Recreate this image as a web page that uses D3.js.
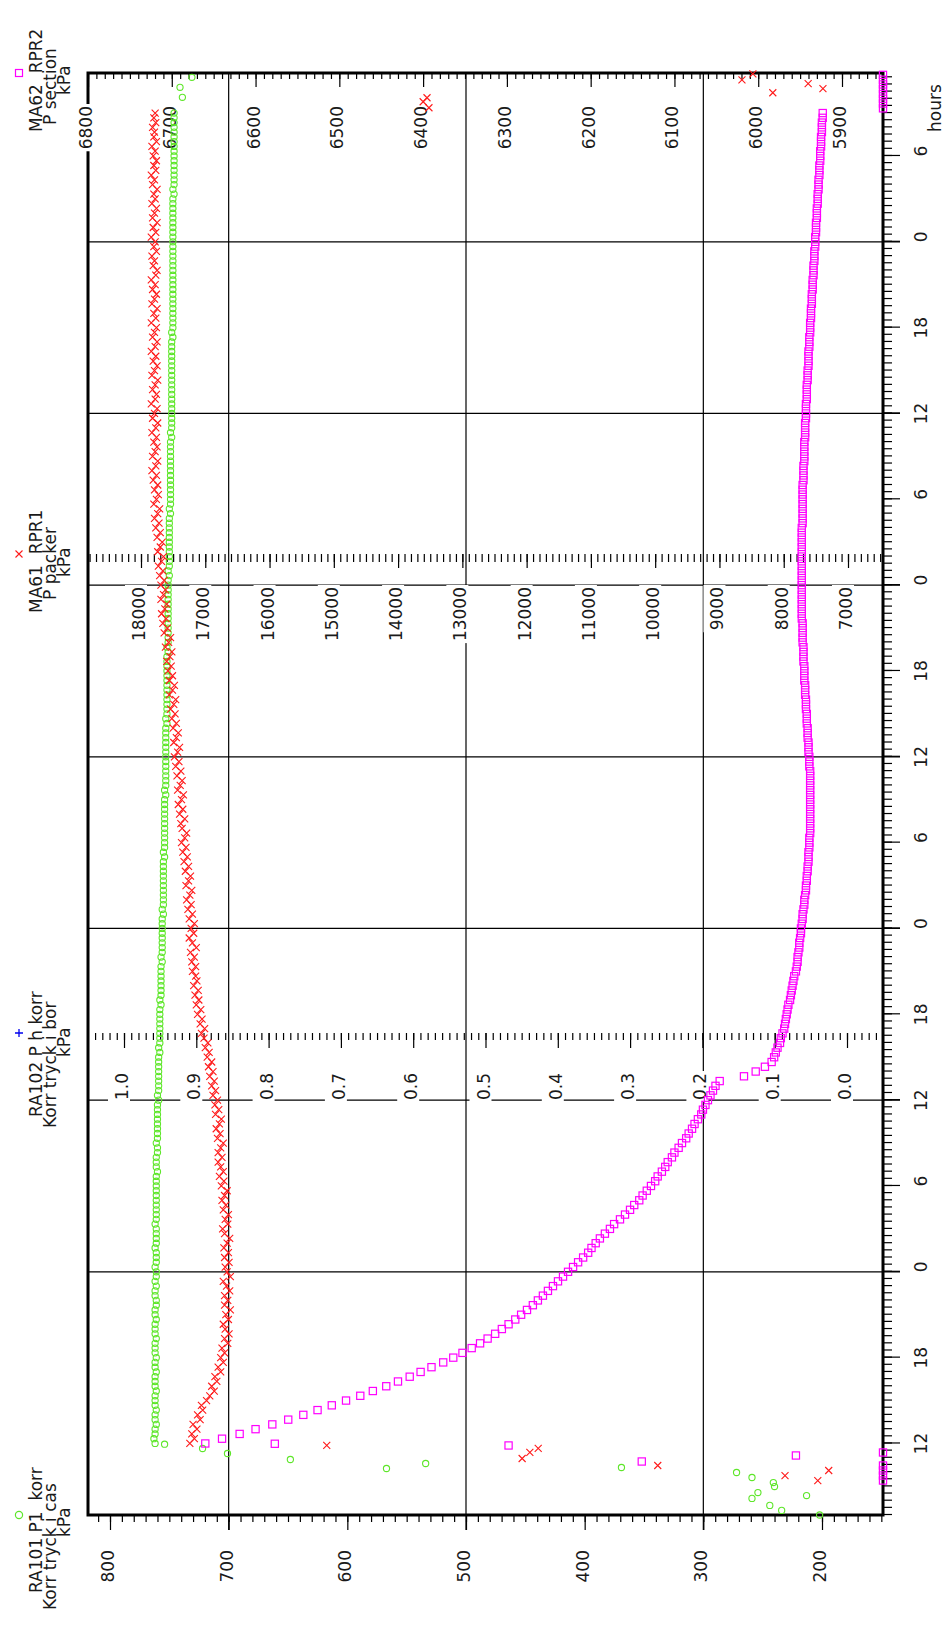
<!DOCTYPE html>
<html><head><meta charset="utf-8">
<script src="https://cdn.jsdelivr.net/npm/d3@7"></script>
<style>
html,body{margin:0;padding:0;background:#fff;}
text{font-family:"DejaVu Sans",sans-serif;fill:#1a1a1a;font-size:17px;}
.pre{white-space:pre;}
</style></head><body>
<script>
// ---------------- DATA ----------------
// main logging: every 20 minutes from day-1 12:00 (hours since day-1 00:00)
const tStart = 12, tStep = 1/3;

// RA101 P1 korr (kPa) – green circles
const rA101 = [
762,763,762,762,761,762,762,761,762,762, 762,761,762,762,762,761,762,762,761,762,
762,762,761,762,762,762,761,762,762,761, 761,762,762,761,762,761,761,762,761,761,
761,762,761,761,761,761,762,761,761,761, 761,761,761,761,761,761,761,760,761,761,
761,760,760,761,760,760,760,760,760,760, 760,760,759,760,759,759,759,759,759,759,
759,759,758,759,758,758,758,758,758,758, 758,758,757,758,757,757,757,757,757,757,
757,756,757,756,756,756,756,756,756,756, 756,755,756,755,755,755,755,755,755,755,
755,755,755,754,755,754,754,754,754,754, 754,754,754,754,754,754,753,754,753,753,
753,753,753,753,753,753,753,753,753,753, 753,752,753,752,752,752,752,752,752,752,
752,752,752,752,752,752,751,752,751,751, 751,751,751,751,751,751,751,751,751,751,
751,751,750,751,750,750,750,750,750,750, 750,750,750,750,750,749,750,749,749,749,
749,749,749,749,749,749,749,749,749,749, 749,748,749,748,748,748,748,748,748,748,
748,748,748,748,748,748,748,748,748,748, 748,748,747,748,747,747,747,747,747,747,
747,747,747,747,747,747,747,747,747,747, 747,747,747,747,747,747,747,747,747,747,
747,747,746,747,746,746,746,746,746,746, 746,746,746,746,746,746,746,746,746,746];
const rA101Extra = [[11.95,754],[11.65,722],[11.3,701],[10.88,648],[10.6,534],[10.25,567],[10.32,369],
[9.97,272],[9.62,259],[9.27,241],[8.99,240],[8.57,254],[8.16,259],[8.36,213],[7.67,244],[7.32,234],[7.0,202],
[106.1,739],[106.8,741],[107.5,731]];

// RA102 P h korr – no logged points visible
const rA102 = [];

// MA61 RPR1 P packer (kPa) – red crosses
const mA61 = [
17240,17170,17210,17130,17190,17080,17120,17040,17060,16980, 16930,16860,16900,16820,16850,16760,16800,16720,16760,16700,
16740,16650,16700,16630,16690,16720,16640,16680,16610,16700, 16650,16700,16620,16670,16720,16610,16660,16690,16630,16700,
16640,16710,16660,16620,16700,16730,16650,16690,16640,16720, 16680,16740,16700,16660,16750,16710,16780,16720,16760,16800,
16740,16800,16760,16720,16810,16770,16830,16780,16750,16840, 16790,16850,16810,16880,16840,16900,16860,16930,16880,16950,
16900,16970,16940,17000,16960,17020,17060,17010,17080,17050, 17120,17070,17140,17100,17160,17110,17180,17130,17150,17200,
17150,17210,17170,17230,17140,17200,17250,17180,17220,17170, 17250,17200,17270,17220,17290,17240,17210,17300,17260,17230,
17310,17260,17330,17280,17350,17300,17370,17320,17290,17360, 17380,17320,17400,17350,17420,17370,17340,17430,17390,17360,
17440,17380,17460,17410,17480,17430,17400,17490,17450,17420, 17500,17450,17520,17470,17540,17490,17460,17560,17510,17480,
17560,17510,17580,17530,17600,17550,17520,17620,17570,17540, 17640,17590,17660,17610,17680,17630,17600,17690,17650,17620,
17690,17640,17710,17660,17730,17680,17650,17740,17700,17670, 17750,17700,17770,17720,17790,17740,17710,17800,17760,17730,
17790,17740,17810,17760,17830,17770,17740,17820,17780,17750, 17800,17760,17830,17770,17740,17820,17790,17750,17840,17780,
17760,17820,17780,17740,17830,17790,17750,17810,17770,17840, 17780,17750,17820,17790,17760,17840,17770,17800,17750,17830,
17790,17760,17820,17780,17840,17770,17750,17810,17790,17830, 17760,17800,17780,17840,17770,17810,17750,17820,17790,17760,
17830,17780,17800,17750,17820,17790,17840,17770,17800,17760, 17810,17780,17830,17760,17800,17790,17820,17770,17800,17780];
const mA61Extra = [[11.86,15110],[11.65,11820],[11.37,11950],[10.95,12070],[10.46,9960],[10.11,7300],[9.76,7980],[9.41,7470],
[105.37,13520],[105.79,13610],[106.07,13550],[106.42,8170],[106.7,7390],[107.05,7620],[107.32,8650],[107.74,8480]];

// MA62 RPR2 P section (kPa) – magenta squares
const mA62 = [
6660,6640,6619,6600,6580,6561,6543,6526,6509,6492, 6475,6460,6444,6430,6416,6403,6390,6376,6364,6353,
6342,6332,6323,6314,6306,6298,6290,6283,6276,6269, 6263,6257,6251,6245,6239,6233,6227,6221,6215,6209,
6203,6199,6194,6189,6183,6177,6172,6165,6159,6153, 6148,6142,6138,6133,6128,6123,6120,6115,6111,6108,
6103,6100,6095,6091,6086,6083,6079,6076,6072,6068, 6066,6063,6060,6057,6054,6051,6046,6017,6003,5992,
5984,5981,5979,5977,5974,5973,5971,5969,5968,5967, 5966,5965,5964,5962,5961,5960,5959,5958,5957,5955,
5954,5953,5953,5952,5951,5951,5950,5949,5949,5948, 5947,5947,5946,5945,5945,5944,5943,5943,5942,5942,
5941,5941,5940,5940,5940,5939,5939,5939,5938,5938, 5938,5938,5938,5938,5938,5938,5938,5938,5938,5938,
5938,5938,5939,5939,5939,5940,5940,5940,5941,5941, 5941,5942,5942,5942,5943,5943,5943,5944,5944,5944,
5945,5945,5945,5945,5946,5946,5946,5946,5947,5947, 5947,5947,5947,5948,5948,5948,5948,5948,5948,5948,
5948,5948,5948,5948,5948,5948,5948,5948,5948,5948, 5948,5948,5948,5947,5947,5947,5947,5947,5947,5947,
5947,5947,5946,5946,5946,5946,5945,5945,5945,5945, 5945,5944,5944,5944,5944,5943,5943,5943,5943,5942,
5942,5942,5942,5941,5941,5941,5940,5940,5940,5940, 5939,5939,5939,5938,5938,5938,5937,5937,5937,5936,
5936,5936,5935,5935,5935,5934,5934,5934,5933,5933, 5933,5932,5932,5932,5931,5931,5931,5930,5930,5930,
5929,5929,5929,5928,5928,5928,5927,5927,5927,5926, 5926,5926,5925,5925,5925,5924,5924,5924,5923,5923];
const mA62Extra = [[11.98,6577],[11.86,6298],[11.37,5800],[11.16,5955],[10.74,6139],[10.46,5800],[10.11,5800],[9.76,5800],[9.41,5800],
[105.33,5800],[105.67,5800],[106,5800],[106.33,5800],[106.67,5800],[107,5800],[107.33,5800],[107.67,5800]];

// axes
const timeTicks  = [12,18,24,30,36,42,48,54,60,66,72,78,84,90,96,102];
const timeLabels = ["12","18","0","6","12","18","0","6","12","18","0","6","12","18","0","6"];
const timeGrid   = [24,36,48,60,72,84,96];
const ticksA = [800,700,600,500,400,300,200];
const gridA  = [700,500,300];
const ticksB = [1.0,0.9,0.8,0.7,0.6,0.5,0.4,0.3,0.2,0.1,0.0];
const ticksC = [18000,17000,16000,15000,14000,13000,12000,11000,10000,9000,8000,7000];
const ticksD = [6800,6700,6600,6500,6400,6300,6200,6100,6000,5900];
const legendTitles = [
  ["RA101 P1  korr","Korr tryck i cas","kPa"],
  ["RA102 P h korr","Korr tryck i bor","kPa"],
  ["MA61  RPR1","P packer","kPa"],
  ["MA62  RPR2","P section","kPa"]];

// ---------------- CHART ----------------
const svg = d3.select("body").append("svg").attr("width",945).attr("height",1630);
// the plot is drawn in its natural orientation and turned a quarter turn
const g = svg.append("g").attr("transform","translate(0,1630) rotate(-90)");
const F = {x0:115, x1:1557, y0:88, y1:883};

const x  = d3.scaleLinear().domain([7,107.8]).range([F.x0,F.x1]);
const yA = d3.scaleLinear().domain([800,200]).range([110,822]);
const yB = d3.scaleLinear().domain([1,0]).range([124,847]);
const yC = d3.scaleLinear().domain([18000,7000]).range([141,848]);
const yD = d3.scaleLinear().domain([6800,5900]).range([88,842]);
yD.domain([6800, yD.invert(F.y1)]).range([F.y0,F.y1]).clamp(true);

// grid
const gl = g.append("g");
gl.selectAll("line").data(timeGrid).join("line")
  .attr("x1",d=>x(d)).attr("x2",d=>x(d)).attr("y1",F.y0).attr("y2",900)
  .attr("stroke","#000").attr("stroke-width",1.2);
const gl2 = g.append("g");
gl2.selectAll("line").data(gridA).join("line")
  .attr("y1",d=>yA(d)).attr("y2",d=>yA(d)).attr("x1",100).attr("x2",F.x1)
  .attr("stroke","#000").attr("stroke-width",1.2);

function ticks(gen, tr, vals, size){
  const s = g.append("g").attr("transform",tr)
    .call(gen.tickValues(vals).tickSize(size).tickSizeOuter(0).tickFormat(""));
  s.select(".domain").remove();
  s.selectAll(".tick text").remove();
  s.selectAll(".tick line").attr("stroke","#000").attr("stroke-width",1.2);
}
const r = (a,b,s)=>d3.range(a,b,s);
// time axis (bottom of the natural plot)
ticks(d3.axisBottom(x), `translate(0,${F.y1})`, r(7,107.8,0.5), 9);
ticks(d3.axisBottom(x), `translate(0,${F.y1})`, timeTicks, 17);
// RA101 axis
ticks(d3.axisLeft(yA), `translate(${F.x0},0)`, r(150,811,10), 7);
ticks(d3.axisLeft(yA), `translate(${F.x0},0)`, ticksA, 15);
// RA102 axis (inside)
const axB = 597;
ticks(d3.axisLeft(yB), `translate(${axB},0)`, r(-4,105,1).map(d=>d/100), 7);
ticks(d3.axisLeft(yB), `translate(${axB},0)`, ticksB, 15);
// MA61 axis (inside)
const axC = 1076;
ticks(d3.axisLeft(yC), `translate(${axC},0)`, r(6500,18801,100), 8);
ticks(d3.axisLeft(yC), `translate(${axC},0)`, ticksC, 14);
// MA62 axis (top edge)
ticks(d3.axisLeft(yD), `translate(${F.x1},0)`, r(5860,6801,10), 6);
ticks(d3.axisLeft(yD), `translate(${F.x1},0)`, ticksD, 14);

// frame
g.append("rect").attr("x",F.x0).attr("y",F.y0).attr("width",F.x1-F.x0).attr("height",F.y1-F.y0)
  .attr("fill","none").attr("stroke","#000").attr("stroke-width",3);

function labels(vals, fmt, scale, xEnd, dy){
  const lg = g.append("g");
  const t = lg.selectAll("text").data(vals).join("text")
    .attr("x", xEnd).attr("y", d=>scale(d)+dy).attr("text-anchor","end").text(fmt);
  t.each(function(){
    const b = this.getBBox();
    lg.insert("rect",":first-child").attr("x",b.x-2).attr("y",b.y-4).attr("width",b.width+4).attr("height",b.height+2).attr("fill","#fff");
  });
}
labels(ticksA, d=>d, yA, 80, 4);
labels(ticksB, d=>d.toFixed(1), yB, 557, 4);
labels(ticksC, d=>d, yC, 1043, 4);
labels(ticksD, d=>d, yD, 1524, 4);

// time labels
g.append("g").selectAll("text").data(timeTicks).join("text")
  .attr("x",(d,i)=>x(d) + (timeLabels[i].length===1?5:0)).attr("y",927)
  .attr("text-anchor","middle").text((d,i)=>timeLabels[i]);
g.append("text").attr("x",1498).attr("y",941).text("hours");

// legend titles (start positions along the time direction)
const legendPos = [ {m:F.x0, s:[37,20,93]}, {m:axB, s:[513,502,573]}, {m:axC, s:[1017,1030,1053]}, {m:F.x1, s:[1498,1505,1535]} ];
legendTitles.forEach((lines,i)=>{
  lines.forEach((s,j)=>{
    g.append("text").attr("class","pre").attr("x",legendPos[i].s[j]).attr("y",42+14*j)
      .attr("text-anchor","start").text(s);
  });
});

const GREEN="#5ee62a", RED="#ff1a1a", MAG="#ff00ff", BLUE="#0000ee";
const cross = "M-3.5,-3.5L3.5,3.5M-3.5,3.5L3.5,-3.5";
// legend markers
g.append("circle").attr("cx",legendPos[0].m).attr("cy",19).attr("r",3.6).attr("fill","none").attr("stroke",GREEN).attr("stroke-width",1.2);
g.append("path").attr("transform",`translate(${legendPos[1].m},19)`).attr("d","M-4,0H4M0,-4V4").attr("stroke",BLUE).attr("stroke-width",1.3);
g.append("path").attr("transform",`translate(${legendPos[2].m},19)`).attr("d",cross).attr("stroke",RED).attr("stroke-width",1.1);
g.append("rect").attr("x",legendPos[3].m-3.5).attr("y",15.5).attr("width",7).attr("height",7).attr("fill","none").attr("stroke",MAG).attr("stroke-width",1.2);

// data
const main = arr => arr.map((v,i)=>[tStart+i*tStep, v]);
const green = main(rA101).concat(rA101Extra);
const red = main(mA61).concat(mA61Extra);
const mag = main(mA62).concat(mA62Extra);

g.append("g").selectAll("circle").data(green).join("circle")
  .attr("cx",d=>x(d[0])).attr("cy",d=>yA(d[1])).attr("r",3.1)
  .attr("fill","none").attr("stroke",GREEN).attr("stroke-width",1.1);
g.append("g").selectAll("path").data(red).join("path")
  .attr("transform",d=>`translate(${x(d[0])},${yC(d[1])})`).attr("d",cross)
  .attr("fill","none").attr("stroke",RED).attr("stroke-width",1.1);
g.append("g").selectAll("rect").data(mag).join("rect")
  .attr("x",d=>x(d[0])-3.6).attr("y",d=>yD(d[1])-3.6).attr("width",7.2).attr("height",7.2)
  .attr("fill","none").attr("stroke",MAG).attr("stroke-width",1.2);
</script>
</body></html>
